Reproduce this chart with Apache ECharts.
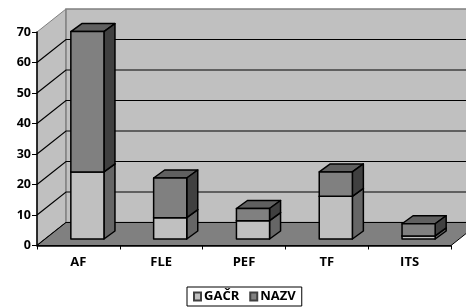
<!DOCTYPE html>
<html>
<head>
<meta charset="utf-8">
<script src="https://cdn.jsdelivr.net/npm/echarts@6/dist/echarts.min.js"></script>
<style>
  html, body { margin: 0; padding: 0; background: #fff; }
  #chart { width: 466px; height: 308px; }
</style>
</head>
<body>
<div id="chart"></div>
<script>
// data
var categories = ["AF", "FLE", "PEF", "TF", "ITS"];
var gacr = [22, 7, 6, 14, 1];
var nazv = [46, 13, 4, 8, 4];
var yTicks = [0, 10, 20, 30, 40, 50, 60, 70];

// 3d look
var WALL_DX = 29, WALL_DY = -23;   // depth of the box
var BAR_SHIFT_X = 9, BAR_SHIFT_Y = -6.5; // bars stand a bit into the floor
var BAR_DX = 11, BAR_DY = -8;      // depth of a bar
var FONT = "'Open Sans', sans-serif";

var chart = echarts.init(document.getElementById("chart"));

// walls, floor and gridlines, one item only
function renderWalls(params, api) {
  var cs = params.coordSys;
  var x0 = cs.x, x1 = cs.x + cs.width;
  var yTop = api.coord([0, 70])[1];
  var yZero = api.coord([0, 0])[1];
  var children = [];
  // left wall
  children.push({
    type: "polygon",
    shape: { points: [[x0, yTop], [x0 + WALL_DX, yTop + WALL_DY], [x0 + WALL_DX, yZero + WALL_DY], [x0, yZero]] },
    style: { fill: "#c0c0c0", stroke: "#808080", lineWidth: 1 }
  });
  // back wall
  children.push({
    type: "rect",
    shape: { x: x0 + WALL_DX, y: yTop + WALL_DY, width: x1 - x0 + 10, height: yZero - yTop },
    style: { fill: "#c0c0c0", stroke: "#808080", lineWidth: 1.5 }
  });
  // gridlines
  for (var i = 0; i < yTicks.length; i++) {
    var y = api.coord([0, yTicks[i]])[1];
    if (yTicks[i] === 70) continue;
    children.push({
      type: "polyline",
      shape: { points: [[x0, y], [x0 + WALL_DX, y + WALL_DY], [x1 + WALL_DX + 10, y + WALL_DY]] },
      style: { fill: null, stroke: "#000", lineWidth: 1.2 }
    });
  }
  // floor
  children.push({
    type: "polygon",
    shape: { points: [[x0, yZero], [x1, yZero], [x1 + WALL_DX, yZero + WALL_DY], [x0 + WALL_DX, yZero + WALL_DY]] },
    style: { fill: "#808080", stroke: "#000", lineWidth: 1 }
  });
  return { type: "group", children: children };
}

function makeBarRenderer(front, side, top) {
  return function (params, api) {
    var idx = api.value(0);
    var lo = api.coord([idx, api.value(1)]);
    var hi = api.coord([idx, api.value(2)]);
    var bw = api.size([1, 0])[0] * 0.4;
    var xa = lo[0] - bw / 2 + BAR_SHIFT_X;
    var xb = xa + bw;
    var yb = lo[1] + BAR_SHIFT_Y;
    var yt = hi[1] + BAR_SHIFT_Y;
    var st = { stroke: "#000", lineWidth: 1.5, lineJoin: "round" };
    return {
      type: "group",
      children: [
        { type: "polygon", shape: { points: [[xa, yt], [xb, yt], [xb + BAR_DX, yt + BAR_DY], [xa + BAR_DX, yt + BAR_DY]] },
          style: Object.assign({ fill: top }, st) },
        { type: "polygon", shape: { points: [[xb, yb], [xb, yt], [xb + BAR_DX, yt + BAR_DY], [xb + BAR_DX, yb + BAR_DY]] },
          style: Object.assign({ fill: side }, st) },
        { type: "rect", shape: { x: xa, y: yt, width: bw, height: yb - yt },
          style: Object.assign({ fill: front }, st) }
      ]
    };
  };
}

var gacrData = [], nazvData = [];
for (var i = 0; i < categories.length; i++) {
  gacrData.push([i, 0, gacr[i]]);
  nazvData.push([i, gacr[i], gacr[i] + nazv[i]]);
}

chart.setOption({
  backgroundColor: "#fff",
  animation: false,
  grid: { left: 37, right: 15, top: 32, bottom: 62.5 },
  legend: {
    data: ["GAČR", "NAZV"],
    left: 187,
    bottom: 2,
    padding: [3, 6, 3, 6],
    itemGap: 10,
    itemWidth: 7,
    itemHeight: 8,
    icon: "rect",
    borderColor: "#000",
    borderWidth: 1,
    borderRadius: 0,
    textStyle: { fontFamily: FONT, fontWeight: "bold", fontSize: 13, color: "#000", padding: [0, 0, 0, -2] }
  },
  xAxis: {
    type: "category",
    data: categories,
    z: 10,
    axisLine: { lineStyle: { color: "#000", width: 1.5 } },
    axisTick: { show: true, length: 4, lineStyle: { color: "#000" } },
    axisLabel: { fontFamily: FONT, fontWeight: "bold", fontSize: 13, color: "#000", margin: 10 },
    splitLine: { show: false }
  },
  yAxis: {
    type: "value",
    min: 0,
    max: 70,
    interval: 10,
    z: 10,
    axisLine: { show: true, lineStyle: { color: "#000", width: 1.5 } },
    axisTick: { show: true, length: 5, lineStyle: { color: "#000" } },
    axisLabel: { fontFamily: FONT, fontWeight: "bold", fontSize: 12.5, color: "#000", margin: 6 },
    splitLine: { show: false }
  },
  series: [
    {
      name: "walls",
      type: "custom",
      z: 1,
      clip: false,
      silent: true,
      renderItem: renderWalls,
      data: [[0, 0]]
    },
    {
      name: "GAČR",
      type: "custom",
      z: 2,
      clip: false,
      itemStyle: { color: "#c0c0c0", borderColor: "#404040", borderWidth: 1 },
      renderItem: makeBarRenderer("#c0c0c0", "#666666", "#a0a0a0"),
      encode: { x: 0, y: [1, 2] },
      data: gacrData
    },
    {
      name: "NAZV",
      type: "custom",
      z: 3,
      clip: false,
      itemStyle: { color: "#808080", borderColor: "#404040", borderWidth: 1 },
      renderItem: makeBarRenderer("#808080", "#404040", "#606060"),
      encode: { x: 0, y: [1, 2] },
      data: nazvData
    }
  ]
});
</script>
</body>
</html>
